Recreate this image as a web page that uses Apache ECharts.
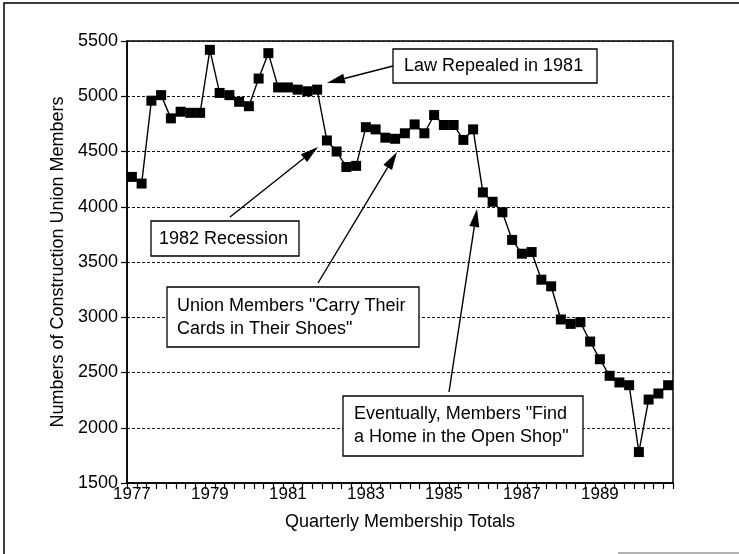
<!DOCTYPE html>
<html>
<head>
<meta charset="utf-8">
<script src="https://cdn.jsdelivr.net/npm/echarts@6/dist/echarts.min.js"></script>
<style>
  html, body { margin: 0; padding: 0; background: #fff; }
  #chart { width: 739px; height: 554px; }
</style>
</head>
<body>
<div id="chart"></div>
<script>
// quarterly categories, 1977 Q1 .. 1990 Q4
var quarters = [
  '1977 Q1','1977 Q2','1977 Q3','1977 Q4','1978 Q1','1978 Q2','1978 Q3','1978 Q4',
  '1979 Q1','1979 Q2','1979 Q3','1979 Q4','1980 Q1','1980 Q2','1980 Q3','1980 Q4',
  '1981 Q1','1981 Q2','1981 Q3','1981 Q4','1982 Q1','1982 Q2','1982 Q3','1982 Q4',
  '1983 Q1','1983 Q2','1983 Q3','1983 Q4','1984 Q1','1984 Q2','1984 Q3','1984 Q4',
  '1985 Q1','1985 Q2','1985 Q3','1985 Q4','1986 Q1','1986 Q2','1986 Q3','1986 Q4',
  '1987 Q1','1987 Q2','1987 Q3','1987 Q4','1988 Q1','1988 Q2','1988 Q3','1988 Q4',
  '1989 Q1','1989 Q2','1989 Q3','1989 Q4','1990 Q1','1990 Q2','1990 Q3','1990 Q4'
];

// union members per quarter
var members = [
  4270, 4210, 4960, 5010, 4800, 4860, 4850, 4850,
  5420, 5030, 5010, 4950, 4910, 5160, 5390, 5080,
  5080, 5060, 5045, 5060, 4600, 4500, 4360, 4370,
  4720, 4700, 4625, 4615, 4665, 4745, 4665, 4830,
  4740, 4740, 4605, 4700, 4130, 4045, 3950, 3700,
  3575, 3590, 3340, 3280, 2980, 2940, 2955, 2780,
  2620, 2470, 2410, 2385, 1780, 2255, 2310, 2385
];

var yTicks = [1500, 2000, 2500, 3000, 3500, 4000, 4500, 5000, 5500];

var FONT = '"Liberation Sans", Arial, sans-serif';

function arrow(x1, y1, x2, y2) {
  var dx = x2 - x1, dy = y2 - y1;
  var len = Math.sqrt(dx * dx + dy * dy);
  var ux = dx / len, uy = dy / len;
  var L = 18, W = 5;
  var bx = x2 - ux * L, by = y2 - uy * L;
  return [
    { type: 'line', z: 50, shape: { x1: x1, y1: y1, x2: bx, y2: by },
      style: { stroke: '#000', lineWidth: 1.4 } },
    { type: 'polygon', z: 50,
      shape: { points: [[x2, y2], [bx - uy * W, by + ux * W], [bx + uy * W, by - ux * W]] },
      style: { fill: '#000' } }
  ];
}

function box(x, y, w, h, lines, tx, ty) {
  return [
    { type: 'rect', z: 40, shape: { x: x, y: y, width: w, height: h },
      style: { fill: '#fff', stroke: '#000', lineWidth: 1.3 } },
    { type: 'text', z: 41, x: tx, y: ty,
      style: { text: lines.join('\n'), font: '18px ' + FONT, fill: '#000',
               lineHeight: 23, align: 'left', verticalAlign: 'middle' } }
  ];
}

var graphics = [].concat(
  [{ type: 'rect', z: 1, shape: { x: 4, y: 3, width: 760, height: 600 },
     style: { fill: 'none', stroke: '#000', lineWidth: 1.5 } },
   { type: 'line', z: 1, shape: { x1: 618, y1: 553, x2: 739, y2: 553 },
     style: { stroke: '#999', lineWidth: 1.5 } }],
  box(393, 49, 204, 34, ['Law Repealed in 1981'], 404, 66.5),
  arrow(393, 66, 327, 83),
  box(151, 221, 148, 35, ['1982 Recession'], 159, 239),
  arrow(230, 217, 318, 147),
  box(167, 287, 252, 60, ['Union Members "Carry Their', 'Cards in Their Shoes"'], 177, 318),
  arrow(318, 283, 397, 152),
  box(343, 396, 240, 60, ['Eventually, Members "Find', 'a Home in the Open Shop"'], 354, 426),
  arrow(449, 392, 477, 209)
);

var option = {
  animation: false,
  backgroundColor: '#fff',
  grid: {
    left: 127, right: 66, top: 41, bottom: 71,
    show: true, borderColor: '#000', borderWidth: 1.5, backgroundColor: 'transparent'
  },
  xAxis: {
    type: 'category',
    data: quarters,
    boundaryGap: true,
    name: 'Quarterly Membership Totals',
    nameLocation: 'middle',
    nameGap: 30,
    nameTextStyle: { fontFamily: FONT, fontSize: 18, color: '#000' },
    axisLine: { lineStyle: { color: '#000', width: 1.5 } },
    axisTick: { show: true, interval: 0, length: 6, lineStyle: { color: '#000', width: 1.2 } },
    axisLabel: {
      interval: 7, margin: 3, fontFamily: FONT, fontSize: 17, color: '#000',
      formatter: function (v) { return v.slice(0, 4); }
    },
    splitLine: { show: false }
  },
  yAxis: {
    type: 'value',
    min: yTicks[0],
    max: yTicks[yTicks.length - 1],
    interval: 500,
    name: 'Numbers of Construction Union Members',
    nameLocation: 'middle',
    nameGap: 53,
    nameTextStyle: { fontFamily: FONT, fontSize: 18, color: '#000' },
    axisLine: { show: true, lineStyle: { color: '#000', width: 1.5 } },
    axisTick: { show: true, length: 6, lineStyle: { color: '#000', width: 1.2 } },
    axisLabel: {
      margin: 9, fontFamily: FONT, fontSize: 18, color: '#000',
      formatter: function (v) { return String(v); }
    },
    splitLine: { show: true, lineStyle: { color: '#111', width: 1.2, type: [3, 2] } }
  },
  series: [{
    type: 'line',
    data: members,
    symbol: 'rect',
    symbolSize: 10,
    showAllSymbol: true,
    lineStyle: { color: '#000', width: 1.4 },
    itemStyle: { color: '#000' },
    z: 10
  }],
  graphic: graphics
};

var myChart = echarts.init(document.getElementById('chart'));
myChart.setOption(option);
</script>
</body>
</html>
